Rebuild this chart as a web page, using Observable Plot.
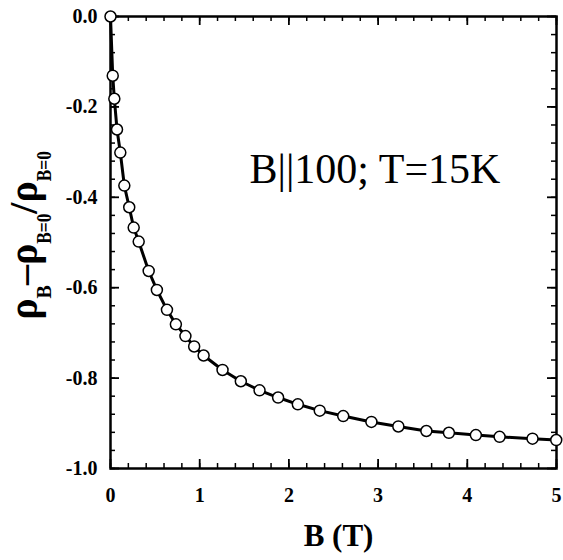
<!DOCTYPE html>
<html>
<head>
<meta charset="utf-8">
<script src="https://cdn.jsdelivr.net/npm/d3@7"></script>
<script src="https://cdn.jsdelivr.net/npm/@observablehq/plot@0.6"></script>
<style>
  html, body { margin: 0; padding: 0; background: #fff; }
  #chart svg { display: block; }
</style>
</head>
<body>
<div id="chart"></div>
<script>
// Magnetic field B (T)
const fieldB = [0, 0.025, 0.043, 0.073, 0.11, 0.155, 0.21, 0.26, 0.316, 0.428, 0.52, 0.633, 0.733, 0.84, 0.938, 1.044, 1.256, 1.461, 1.671, 1.879, 2.10, 2.346, 2.609, 2.925, 3.227, 3.541, 3.794, 4.096, 4.362, 4.731, 4.997];
// (rho_B - rho_B=0) / rho_B=0
const magnetoRes = [0, -0.131, -0.182, -0.250, -0.301, -0.374, -0.422, -0.467, -0.498, -0.563, -0.605, -0.649, -0.681, -0.707, -0.730, -0.750, -0.782, -0.807, -0.827, -0.843, -0.858, -0.872, -0.884, -0.897, -0.907, -0.917, -0.921, -0.926, -0.930, -0.934, -0.937];

const xMajorTicks = [0, 1, 2, 3, 4, 5];
const xMinorTicks = d3.range(0, 5.0001, 0.2);
const yMajorTicks = [0, -0.2, -0.4, -0.6, -0.8, -1.0];
const yMinorTicks = d3.range(0, -1.0001, -0.04);
const annotation = "B||100; T=15K";
const xLabel = "B (T)";
// y label pieces: [text, isSubscript]
const yLabelParts = [["ρ", false], ["B", true], ["–ρ", false], ["B=0", true], ["/ρ", false], ["B=0", true]];

const data = fieldB.map((b, i) => ({b, r: magnetoRes[i]}));

const W = 563, H = 560;
const mL = 110, mR = 7, mT = 16, mB = 92;
const innerW = W - mL - mR, innerH = H - mT - mB;
const serif = "'Liberation Serif', 'Times New Roman', serif";

const chart = Plot.plot({
  width: W,
  height: H,
  marginLeft: mL,
  marginRight: mR,
  marginTop: mT,
  marginBottom: mB,
  x: {domain: [0, 5]},
  y: {domain: [-1, 0]},
  style: {fontFamily: serif, background: "white"},
  marks: [
    Plot.tickX(xMinorTicks, {x: d => d, insetTop: innerH - 5, stroke: "black", strokeWidth: 1.5}),
    Plot.tickX(xMinorTicks, {x: d => d, insetBottom: innerH - 5, stroke: "black", strokeWidth: 1.5}),
    Plot.tickX(xMajorTicks, {x: d => d, insetTop: innerH - 9, stroke: "black", strokeWidth: 1.8}),
    Plot.tickX(xMajorTicks, {x: d => d, insetBottom: innerH - 9, stroke: "black", strokeWidth: 1.8}),
    Plot.tickY(yMinorTicks, {y: d => d, insetRight: innerW - 5, stroke: "black", strokeWidth: 1.5}),
    Plot.tickY(yMinorTicks, {y: d => d, insetLeft: innerW - 5, stroke: "black", strokeWidth: 1.5}),
    Plot.tickY(yMajorTicks, {y: d => d, insetRight: innerW - 9, stroke: "black", strokeWidth: 1.8}),
    Plot.tickY(yMajorTicks, {y: d => d, insetLeft: innerW - 9, stroke: "black", strokeWidth: 1.8}),
    Plot.axisX({ticks: xMajorTicks, tickSize: 0, tickPadding: 19, tickFormat: d => String(d), fontSize: 20, fontWeight: "bold", fontFamily: serif, label: null}),
    Plot.axisY({ticks: yMajorTicks, tickSize: 0, tickPadding: 13, tickFormat: d => d.toFixed(1), fontSize: 20, fontWeight: "bold", fontFamily: serif, label: null}),
    Plot.frame({stroke: "black", strokeWidth: 2.5}),
    Plot.line(data, {x: "b", y: "r", stroke: "black", strokeWidth: 3}),
    Plot.dot(data, {x: "b", y: "r", r: 5.5, fill: "white", stroke: "black", strokeWidth: 1.5}),
    Plot.text([annotation], {frameAnchor: "top-left", dx: 139, dy: 137, text: d => d, textAnchor: "start", fontSize: 42, fontFamily: serif, fill: "black"}),
    Plot.text([xLabel], {frameAnchor: "bottom", dx: 5, dy: 77, text: d => d, fontSize: 31, fontWeight: "bold", fontFamily: serif, fill: "black"}),
    Plot.text(["YLABEL"], {frameAnchor: "left", dx: -86, dy: -7, rotate: -90, textAnchor: "middle", text: d => d, fontSize: 40, fontWeight: "bold", fontFamily: serif, fill: "black"})
  ]
});

// Rich y-axis label with subscripts
const yl = Array.from(chart.querySelectorAll("text")).find(t => t.textContent === "YLABEL");
if (yl) {
  yl.textContent = "";
  const ns = "http://www.w3.org/2000/svg";
  let first = true;
  for (const [s, sub] of yLabelParts) {
    const ts = document.createElementNS(ns, "tspan");
    ts.textContent = s;
    if (sub) {
      ts.setAttribute("font-size", "20");
      ts.setAttribute("dy", "14");
      if (s.length > 1) {
        ts.setAttribute("textLength", "30");
        ts.setAttribute("lengthAdjust", "spacingAndGlyphs");
      }
    } else {
      ts.setAttribute("dy", first ? "0" : "-14");
    }
    first = false;
    yl.appendChild(ts);
  }
}
document.getElementById("chart").appendChild(chart);
</script>
</body>
</html>
